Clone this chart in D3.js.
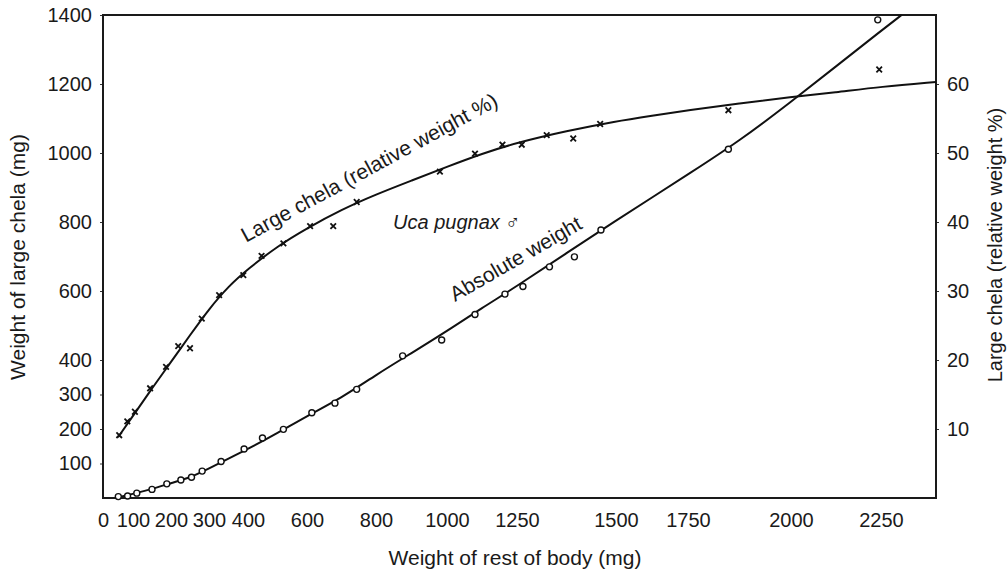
<!DOCTYPE html>
<html>
<head>
<meta charset="utf-8">
<script src="https://cdnjs.cloudflare.com/ajax/libs/d3/7.8.5/d3.min.js"></script>
<style>
  body { margin: 0; background: #fff; }
  svg text { font-family: "Liberation Sans", Arial, sans-serif; fill: #1a1a1a; }
</style>
</head>
<body>
<div id="chart"></div>
<script>
// tick labels
var bodyTicks = [0, 100, 200, 300, 400, 600, 800, 1000, 1250, 1500, 1750, 2000, 2250];
var chelaTicks = [100, 200, 300, 400, 600, 800, 1000, 1200, 1400];
var pctTicks = [10, 20, 30, 40, 50, 60];

// fitted curve: absolute weight of large chela (mg)
var absFitBody = [50, 100, 150, 200, 250, 300, 350, 400, 500, 600, 700, 800, 900, 1000,
  1125, 1250, 1375, 1500, 1625, 1750, 1875, 2000, 2125, 2250, 2310];
var absFit = [2, 12, 26, 43, 59, 86, 114, 142, 188, 238, 290, 357, 420, 484,
  551, 614, 710, 804, 871, 938, 1035, 1148, 1251, 1354, 1400];

// fitted curve: relative weight (%)
var relFitBody = [50, 100, 150, 200, 250, 300, 350, 400, 500, 600, 700, 800, 900, 1000,
  1125, 1250, 1375, 1500, 1625, 1750, 1875, 2000, 2125, 2250, 2410];
var relFit = [8.8, 11.9, 15.9, 19.7, 23.6, 27.4, 30.7, 33.2, 36.5, 39.1, 41.8, 44.0, 46.0, 48.0,
  49.9, 51.5, 53.2, 54.6, 55.4, 56.2, 57.2, 58.1, 58.8, 59.6, 60.3];

// observations (circles): absolute weight
var absBody = [51, 82, 110, 150, 189, 226, 254, 282, 331, 390, 449, 520, 614, 681, 744,
  875, 985, 1100, 1207, 1265, 1332, 1395, 1462, 1848, 2241];
var absChela = [4, 6, 14, 25, 41, 52, 60, 78, 106, 142, 174, 199, 247, 275, 315,
  412, 458, 532, 591, 613, 670, 699, 777, 1011, 1386];

// observations (crosses): relative weight
var relBody = [54, 81, 105, 145, 187, 219, 250, 281, 326, 388, 446, 520, 609, 676, 744,
  980, 1100, 1198, 1262, 1325, 1392, 1460, 1848, 2245];
var relPct = [9.1, 11.1, 12.5, 15.9, 19.0, 22.0, 21.7, 26.0, 29.4, 32.3, 35.1, 36.9, 39.4, 39.4, 42.9,
  47.3, 49.9, 51.2, 51.2, 52.6, 52.1, 54.2, 56.2, 62.1];

var W = 1008, H = 575;
var svg = d3.select('#chart').append('svg')
  .attr('width', W)
  .attr('height', H);

// the printed body-weight labels are not evenly spaced, so the scale follows them
var x = d3.scaleLinear()
  .domain([0, 100, 200, 300, 400, 600, 800, 1000, 1250, 1500, 1750, 2000, 2250, 2410])
  .range([103, 133, 171, 209, 248, 307, 376, 447, 517, 616, 688, 791, 881, 936]);
var yL = d3.scaleLinear().domain([0, 1400]).range([498, 15]);
var yR = d3.scaleLinear().domain([0, 70]).range([498, 15]);

var fmt = d3.format('d');

// axes
var gx = svg.append('g')
  .attr('transform', 'translate(0,498)')
  .call(d3.axisBottom(x).tickValues(bodyTicks).tickFormat(fmt).tickSize(0).tickPadding(15));
var gl = svg.append('g')
  .attr('transform', 'translate(103,0)')
  .call(d3.axisLeft(yL).tickValues(chelaTicks).tickFormat(fmt).tickSize(3).tickPadding(8));
var gr = svg.append('g')
  .attr('transform', 'translate(936,0)')
  .call(d3.axisRight(yR).tickValues(pctTicks).tickFormat(fmt).tickSize(3).tickPadding(8));
[gx, gl, gr].forEach(function(g) {
  g.select('.domain').remove();
  g.selectAll('text').style('font-size', '20px').attr('fill', '#1a1a1a');
  g.selectAll('line').attr('stroke', '#333');
});

// frame
svg.append('rect')
  .attr('x', x(0)).attr('y', yL(1400))
  .attr('width', x(2410) - x(0)).attr('height', yL(0) - yL(1400))
  .attr('fill', 'none').attr('stroke', '#1a1a1a').attr('stroke-width', 2);

// fitted curves
var absLine = d3.line()
  .x(function(d, i) { return x(absFitBody[i]); })
  .y(function(d) { return yL(d); })
  .curve(d3.curveBasis);
var relLine = d3.line()
  .x(function(d, i) { return x(relFitBody[i]); })
  .y(function(d) { return yR(d); })
  .curve(d3.curveBasis);

svg.append('path').attr('d', absLine(absFit))
  .attr('fill', 'none').attr('stroke', '#111').attr('stroke-width', 2);
svg.append('path').attr('d', relLine(relFit))
  .attr('fill', 'none').attr('stroke', '#111').attr('stroke-width', 2);

// points
svg.append('g').selectAll('circle')
  .data(absChela)
  .join('circle')
  .attr('cx', function(d, i) { return x(absBody[i]); })
  .attr('cy', function(d) { return yL(d); })
  .attr('r', 3)
  .attr('fill', '#fff')
  .attr('stroke', '#111')
  .attr('stroke-width', 1.4);

var star = d3.symbol().type(d3.symbolTimes).size(22);
svg.append('g').selectAll('path')
  .data(relPct)
  .join('path')
  .attr('d', star)
  .attr('transform', function(d, i) { return 'translate(' + x(relBody[i]) + ',' + yR(d) + ')'; })
  .attr('fill', 'none')
  .attr('stroke', '#111')
  .attr('stroke-width', 1.8);

// labels inside the plot
svg.append('text')
  .attr('transform', 'translate(' + x(395) + ',' + yL(740) + ') rotate(-28.5)')
  .style('font-size', '21px')
  .text('Large chela (relative weight %)');
svg.append('text')
  .attr('transform', 'translate(' + x(1029) + ',' + yL(568) + ') rotate(-30)')
  .style('font-size', '21px')
  .text('Absolute weight');
var uca = svg.append('text')
  .attr('x', x(848)).attr('y', yL(780))
  .style('font-size', '20px');
uca.append('tspan').style('font-style', 'italic').text('Uca pugnax');
uca.append('tspan').text(' \u2642');

// axis titles
svg.append('text')
  .attr('x', 515).attr('y', 565)
  .attr('text-anchor', 'middle')
  .style('font-size', '21px')
  .text('Weight of rest of body (mg)');
svg.append('text')
  .attr('transform', 'translate(25,257) rotate(-90)')
  .attr('text-anchor', 'middle')
  .style('font-size', '21px')
  .text('Weight of large chela (mg)');
svg.append('text')
  .attr('transform', 'translate(1002,245) rotate(-90)')
  .attr('text-anchor', 'middle')
  .style('font-size', '20px')
  .text('Large chela (relative weight %)');
</script>
</body>
</html>
